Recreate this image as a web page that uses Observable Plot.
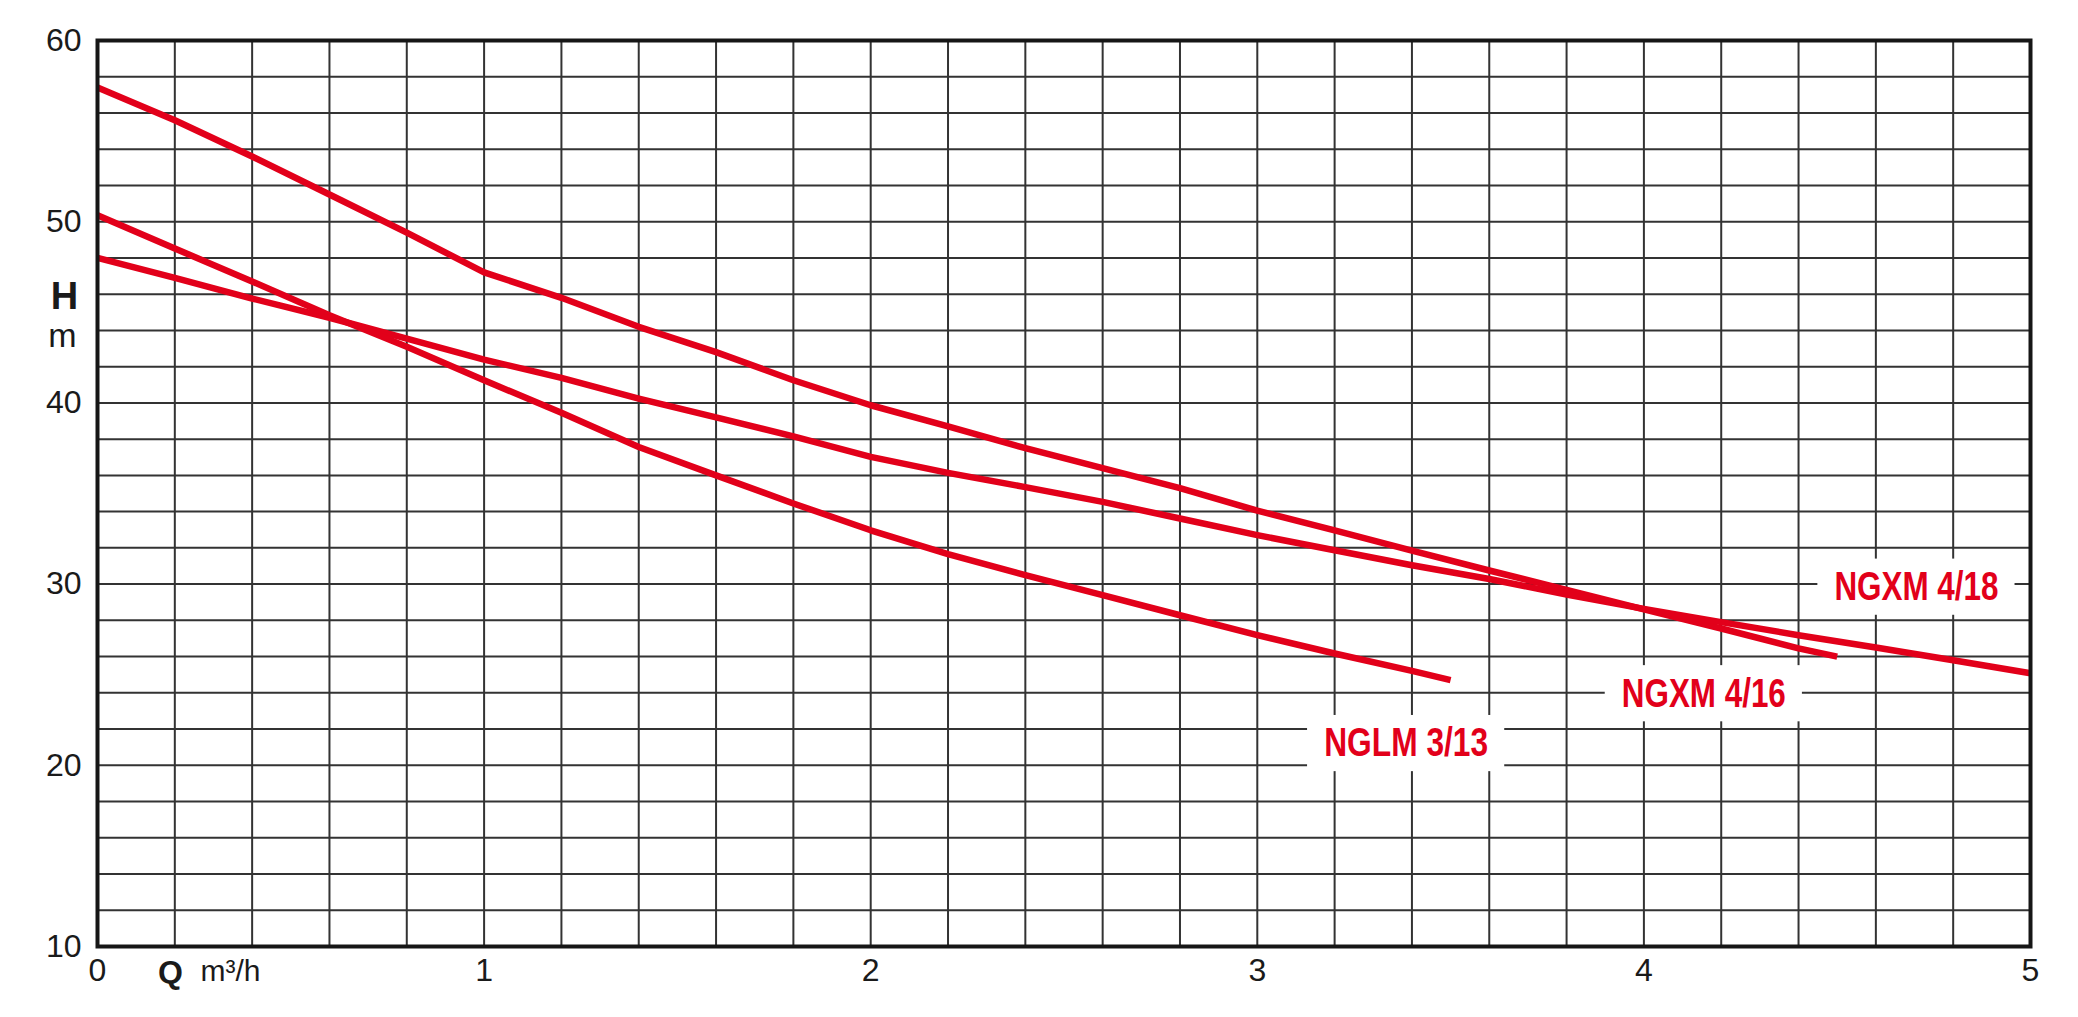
<!DOCTYPE html>
<html>
<head>
<meta charset="utf-8">
<script src="https://cdn.jsdelivr.net/npm/d3@7"></script>
<script src="https://cdn.jsdelivr.net/npm/@observablehq/plot@0.6"></script>
<style>
  html, body { margin: 0; padding: 0; background: #ffffff; }
  #chart { width: 2078px; height: 1017px; }
</style>
</head>
<body>
<div id="chart"></div>
<script>
// ---- Data ----
// NGXM 4/16
const flowA = [0, 0.2, 0.4, 0.6, 0.8, 1.0, 1.2, 1.4, 1.6, 1.8, 2.0, 2.2, 2.4, 2.6, 2.8, 3.0, 3.2, 3.4, 3.6, 3.8, 4.0, 4.2, 4.4, 4.5];
const headA = [57.4, 55.6, 53.6, 51.5, 49.4, 47.2, 45.8, 44.2, 42.8, 41.25, 39.87, 38.7, 37.5, 36.4, 35.3, 34.05, 32.97, 31.85, 30.75, 29.68, 28.6, 27.55, 26.45, 26.0];
// NGXM 4/18
const flowB = [0, 0.2, 0.4, 0.6, 0.8, 1.0, 1.2, 1.4, 1.6, 1.8, 2.0, 2.2, 2.4, 2.6, 2.8, 3.0, 3.2, 3.4, 3.6, 3.8, 4.0, 4.2, 4.4, 4.6, 4.8, 5.0];
const headB = [48.0, 46.9, 45.76, 44.7, 43.55, 42.39, 41.38, 40.24, 39.2, 38.15, 37.02, 36.14, 35.35, 34.54, 33.62, 32.7, 31.87, 31.04, 30.28, 29.42, 28.63, 27.9, 27.18, 26.5, 25.8, 25.08];
// NGLM 3/13
const flowC = [0, 0.2, 0.4, 0.6, 0.8, 1.0, 1.2, 1.4, 1.6, 1.8, 2.0, 2.2, 2.4, 2.6, 2.8, 3.0, 3.2, 3.4, 3.5];
const headC = [50.36, 48.52, 46.7, 44.84, 43.1, 41.25, 39.45, 37.57, 36.0, 34.45, 32.97, 31.65, 30.49, 29.39, 28.28, 27.18, 26.17, 25.21, 24.7];

// Curve labels and their anchor points (Q, H)
const labelNames = ["NGXM 4/18", "NGXM 4/16", "NGLM 3/13"];
const labelQ = [4.705, 4.155, 3.385];
const labelH = [29.83, 23.95, 21.2];

// Axis ticks
const xTicks = [0, 1, 2, 3, 4, 5];
const yTicks = [10, 20, 30, 40, 50, 60];
const xGrid = [0, 0.2, 0.4, 0.6, 0.8, 1, 1.2, 1.4, 1.6, 1.8, 2, 2.2, 2.4, 2.6, 2.8, 3, 3.2, 3.4, 3.6, 3.8, 4, 4.2, 4.4, 4.6, 4.8, 5];
const yGrid = [10, 12, 14, 16, 18, 20, 22, 24, 26, 28, 30, 32, 34, 36, 38, 40, 42, 44, 46, 48, 50, 52, 54, 56, 58, 60];

// ---- Build tables ----
const seriesA = flowA.map((q, i) => ({q, h: headA[i]}));
const seriesB = flowB.map((q, i) => ({q, h: headB[i]}));
const seriesC = flowC.map((q, i) => ({q, h: headC[i]}));
const labels = labelNames.map((name, i) => ({name, q: labelQ[i], h: labelH[i]}));

const RED = "#e2001a";
const INK = "#1a1a1a";
const GRID = "#333333";
const boxHalfW = 0.255;  // half width of white label box (Q units)
const boxHalfH = 1.55;   // half height of white label box (H units)

const chart = Plot.plot({
  width: 2078,
  height: 1017,
  marginLeft: 97,
  marginRight: 48,
  marginTop: 40,
  marginBottom: 71,
  style: {
    fontFamily: "'Liberation Sans', Arial, Helvetica, sans-serif",
    fontSize: "32px",
    color: INK,
    background: "#ffffff"
  },
  x: {domain: [0, 5]},
  y: {domain: [10, 60]},
  marks: [
    Plot.gridX(xGrid, {stroke: GRID, strokeOpacity: 1, strokeWidth: 2}),
    Plot.gridY(yGrid, {stroke: GRID, strokeOpacity: 1, strokeWidth: 2}),
    Plot.rect(labels, {
      x1: d => d.q - boxHalfW, x2: d => d.q + boxHalfW,
      y1: d => d.h - boxHalfH, y2: d => d.h + boxHalfH,
      fill: "#ffffff"
    }),
    Plot.line(seriesA, {x: "q", y: "h", stroke: RED, strokeWidth: 6.5, strokeLinecap: "butt", strokeLinejoin: "round"}),
    Plot.line(seriesB, {x: "q", y: "h", stroke: RED, strokeWidth: 6.5, strokeLinecap: "butt", strokeLinejoin: "round"}),
    Plot.line(seriesC, {x: "q", y: "h", stroke: RED, strokeWidth: 6.5, strokeLinecap: "butt", strokeLinejoin: "round"}),
    Plot.text(labels, {
      x: "q", y: "h", text: "name",
      fill: RED, fontSize: 40, fontWeight: "bold",
      fontFamily: "'Liberation Sans Narrow', 'Arial Narrow', 'Liberation Sans', sans-serif",
      className: "curve-label"
    }),
    Plot.axisY({ticks: yTicks, tickSize: 0, tickPadding: 16, fontSize: 32, label: null, tickFormat: "d"}),
    Plot.axisX({ticks: xTicks, tickSize: 0, tickPadding: 12, fontSize: 32, label: null, tickFormat: "d"}),
    Plot.frame({stroke: "#161616", strokeWidth: 4}),
    // Axis titles
    Plot.text(["H"], {frameAnchor: "top-left", dx: -33, dy: 256, textAnchor: "middle", lineAnchor: "middle",
      fontSize: 38, fontWeight: "bold", fill: INK}),
    Plot.text(["m"], {frameAnchor: "top-left", dx: -35, dy: 296, textAnchor: "middle", lineAnchor: "middle",
      fontSize: 34, fill: INK}),
    Plot.text(["Q"], {frameAnchor: "bottom-left", dx: 73, dy: 26, textAnchor: "middle", lineAnchor: "middle",
      fontSize: 32, fontWeight: "bold", fill: INK}),
    Plot.text(["m³/h"], {frameAnchor: "bottom-left", dx: 103, dy: 25, textAnchor: "start", lineAnchor: "middle",
      fontSize: 30, fill: INK})
  ]
});

document.getElementById("chart").appendChild(chart);

// Condense the curve labels horizontally to mimic a condensed bold face
const targetWidth = 164;
chart.querySelectorAll("g.curve-label text, .curve-label text").forEach(t => {
  const len = t.getComputedTextLength();
  if (len > targetWidth) {
    t.setAttribute("textLength", targetWidth);
    t.setAttribute("lengthAdjust", "spacingAndGlyphs");
  }
});
</script>
</body>
</html>
